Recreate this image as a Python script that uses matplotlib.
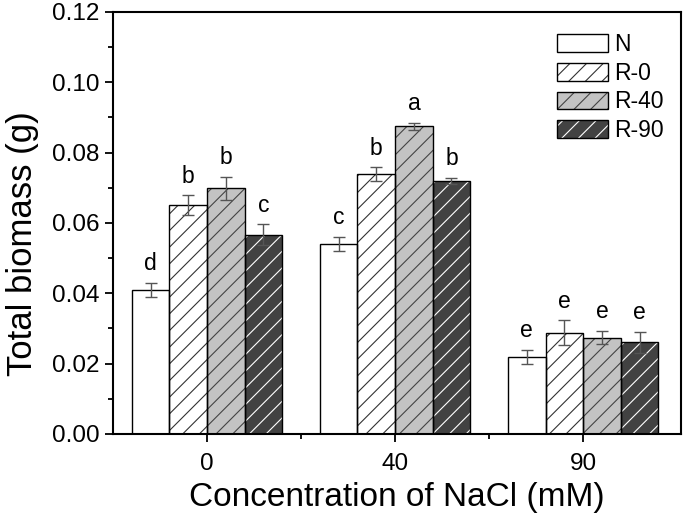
import matplotlib
matplotlib.use("Agg")
import matplotlib.pyplot as plt
from matplotlib.patches import Patch
from matplotlib.legend_handler import HandlerTuple
import numpy as np

plt.rcParams['font.family'] = ['Liberation Sans', 'DejaVu Sans']
plt.rcParams['hatch.linewidth'] = 0.8

groups = ["0", "40", "90"]
series = ["N", "R-0", "R-40", "R-90"]
values = {
    "N":    [0.0410, 0.0541, 0.0219],
    "R-0":  [0.0650, 0.0738, 0.0288],
    "R-40": [0.0698, 0.0875, 0.0274],
    "R-90": [0.0566, 0.0720, 0.0260],
}
errors = {
    "N":    [0.0020, 0.0020, 0.0020],
    "R-0":  [0.0028, 0.0020, 0.0035],
    "R-40": [0.0032, 0.0010, 0.0018],
    "R-90": [0.0030, 0.0008, 0.0030],
}
letters = {
    "N":    ["d", "c", "e"],
    "R-0":  ["b", "b", "e"],
    "R-40": ["b", "a", "e"],
    "R-90": ["c", "b", "e"],
}
fills = {"N": "white", "R-0": "white", "R-40": "#c3c3c3", "R-90": "#424242"}
hatches = {"N": None, "R-0": "//", "R-40": "//", "R-90": "//"}
hatch_colors = {"N": "black", "R-0": "#333333", "R-40": "#444444", "R-90": "white"}

fig = plt.figure(figsize=(6.85, 5.19), dpi=100)
ax = fig.add_axes([0.165, 0.164, 0.829, 0.813])

x = np.arange(len(groups))
w = 0.2
for i, s in enumerate(series):
    pos = x + (i - 1.5) * w
    v = values[s]
    ax.bar(pos, v, w, color=fills[s], edgecolor=hatch_colors[s], linewidth=0,
           hatch=hatches[s], zorder=2)
    ax.bar(pos, v, w, fill=False, edgecolor="black", linewidth=1.0, zorder=3)
    ax.errorbar(pos, v, yerr=errors[s], fmt="none", ecolor="#555555",
                elinewidth=1.0, capsize=4, capthick=1.0, zorder=4)
    for p, val, e, l in zip(pos, v, errors[s], letters[s]):
        ax.text(p, val + e + 0.0022, l, ha="center", va="bottom", fontsize=16.5)

handles = []
for s in series:
    h_fill = Patch(facecolor=fills[s], edgecolor=hatch_colors[s], hatch=hatches[s],
                   linewidth=0)
    h_edge = Patch(fill=False, edgecolor="black", linewidth=1.0)
    handles.append((h_fill, h_edge))
leg = ax.legend(handles, series, loc="upper left", bbox_to_anchor=(0.782, 0.95),
                frameon=False, fontsize=16.5, handlelength=2.2, handleheight=0.8,
                handletextpad=0.3, labelspacing=0.25, borderpad=0, borderaxespad=0,
                handler_map={tuple: HandlerTuple(ndivide=1, pad=0)})

ax.set_xlim(-0.5, 2.52)
ax.set_ylim(0, 0.12)
ax.set_xticks(x)
ax.set_xticklabels(groups)
ax.set_xticks([0.5, 1.5], minor=True)
yt = np.arange(0, 0.121, 0.02)
ax.set_yticks(yt)
ax.set_yticklabels([f"{t:.2f}" for t in yt])
ax.set_yticks(np.arange(0.01, 0.12, 0.02), minor=True)
ax.tick_params(axis="both", which="major", direction="out", length=6, width=1.3,
               labelsize=17.5)
ax.tick_params(axis="x", which="major", pad=8)
ax.tick_params(axis="both", which="minor", direction="out", length=3.5, width=1.3)
ax.tick_params(top=False, right=False, which="both")
for sp in ax.spines.values():
    sp.set_linewidth(1.5)

ax.set_xlabel("Concentration of NaCl (mM)", fontsize=24)
ax.set_ylabel("Total biomass (g)", fontsize=25)
ax.xaxis.set_label_coords(0.5, -0.114)
ax.yaxis.set_label_coords(-0.130, 0.45)

fig.savefig("out.png", dpi=100)
